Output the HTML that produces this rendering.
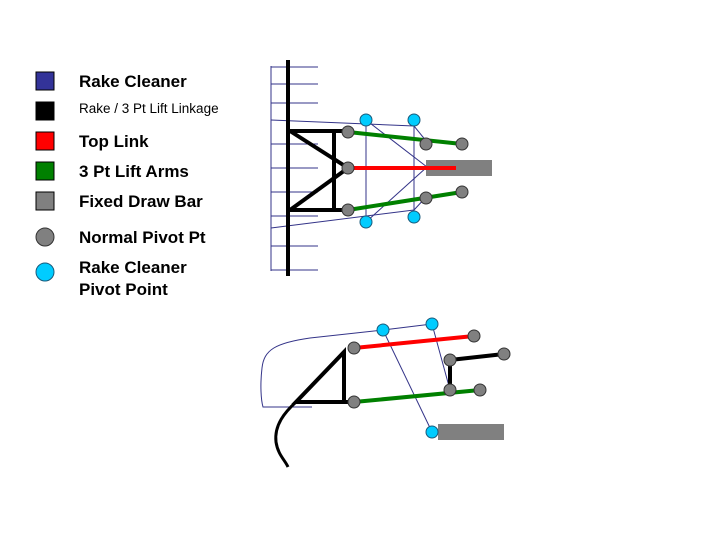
<!DOCTYPE html>
<html><head><meta charset="utf-8"><style>
html,body{margin:0;padding:0;background:#fff;}
svg{display:block}
text{font-family:"Liberation Sans",Arial,sans-serif;font-weight:bold;font-size:17px;fill:#000}
</style></head><body>
<svg width="720" height="540" viewBox="0 0 720 540" xmlns="http://www.w3.org/2000/svg">
<!-- legend -->
<rect x="36" y="72" width="18" height="18" fill="#333399" stroke="#000"/>
<rect x="36" y="102" width="18" height="18" fill="#000" stroke="#000"/>
<rect x="36" y="132" width="18" height="18" fill="#ff0000" stroke="#000"/>
<rect x="36" y="162" width="18" height="18" fill="#008000" stroke="#000"/>
<rect x="36" y="192" width="18" height="18" fill="#808080" stroke="#000"/>
<circle cx="45" cy="237" r="9" fill="#808080" stroke="#333"/>
<circle cx="45" cy="272" r="9" fill="#00ccff" stroke="#1a5a7a"/>
<text x="79" y="87">Rake Cleaner</text>
<text x="79" y="113" style="font-weight:normal;font-size:13.5px">Rake / 3 Pt Lift Linkage</text>
<text x="79" y="147">Top Link</text>
<text x="79" y="177">3 Pt Lift Arms</text>
<text x="79" y="207">Fixed Draw Bar</text>
<text x="79" y="243">Normal Pivot Pt</text>
<text x="79" y="273">Rake Cleaner</text>
<text x="79" y="295">Pivot Point</text>

<!-- top diagram -->
<g stroke="#333388" stroke-width="1" fill="none">
<line x1="271" y1="66" x2="271" y2="271"/>
<line x1="271" y1="67" x2="318" y2="67"/>
<line x1="271" y1="84" x2="318" y2="84"/>
<line x1="271" y1="103" x2="318" y2="103"/>
<line x1="271" y1="144" x2="318" y2="144"/>
<line x1="271" y1="168" x2="318" y2="168"/>
<line x1="271" y1="192" x2="318" y2="192"/>
<line x1="271" y1="216" x2="318" y2="216"/>
<line x1="271" y1="246" x2="318" y2="246"/>
<line x1="271" y1="270" x2="318" y2="270"/>
<line x1="271" y1="120" x2="414" y2="126"/>
<line x1="271" y1="228" x2="414" y2="210"/>
<line x1="366" y1="120" x2="366" y2="222"/>
<line x1="414" y1="120" x2="414" y2="217"/>
<line x1="366" y1="120" x2="427" y2="167"/>
<line x1="414" y1="126" x2="427" y2="142"/>
<line x1="366" y1="222" x2="427" y2="167"/>
<line x1="414" y1="210" x2="427" y2="196"/>
</g>
<line x1="288" y1="60" x2="288" y2="276" stroke="#000" stroke-width="4"/>
<rect x="426" y="160" width="66" height="16" fill="#808080"/>
<g stroke="#000" stroke-width="4" fill="none">
<line x1="288" y1="131" x2="348" y2="131"/>
<line x1="288" y1="210" x2="348" y2="210"/>
<line x1="334" y1="131" x2="334" y2="210"/>
<polyline points="290,131 348,168 290,210"/>
</g>
<line x1="348" y1="132" x2="462" y2="144" stroke="#008000" stroke-width="4"/>
<line x1="348" y1="210" x2="462" y2="192" stroke="#008000" stroke-width="4"/>
<line x1="348" y1="168" x2="456" y2="168" stroke="#ff0000" stroke-width="4"/>
<g fill="#808080" stroke="#333" stroke-width="1">
<circle cx="348" cy="132" r="6"/><circle cx="348" cy="168" r="6"/><circle cx="348" cy="210" r="6"/>
<circle cx="426" cy="144" r="6"/><circle cx="462" cy="144" r="6"/>
<circle cx="426" cy="198" r="6"/><circle cx="462" cy="192" r="6"/>
</g>
<g fill="#00ccff" stroke="#1a5a7a" stroke-width="1">
<circle cx="366" cy="120" r="6"/><circle cx="414" cy="120" r="6"/>
<circle cx="366" cy="222" r="6"/><circle cx="414" cy="217" r="6"/>
</g>

<!-- bottom diagram -->
<g stroke="#333388" stroke-width="1" fill="none">
<path d="M383,330 L310,338 C275,343 264,350 262,368 C260,385 261,400 263,407 L312,407"/>
<line x1="383" y1="330" x2="432" y2="324"/>
<line x1="383" y1="330" x2="432" y2="432"/>
<line x1="432" y1="324" x2="450" y2="390"/>
</g>
<path d="M296,402 C285,412 274,425 276,442 C278,455 285,460 288,467" stroke="#000" stroke-width="3" fill="none"/>
<rect x="438" y="424" width="66" height="16" fill="#808080"/>
<g stroke="#000" stroke-width="4" fill="none">
<polygon points="296,402 344,352 344,402"/>
<line x1="344" y1="402" x2="354" y2="402"/>
<line x1="450" y1="360" x2="504" y2="354"/>
<line x1="450" y1="360" x2="450" y2="390"/>
</g>
<line x1="354" y1="348" x2="474" y2="336" stroke="#ff0000" stroke-width="4"/>
<line x1="354" y1="402" x2="480" y2="390" stroke="#008000" stroke-width="4"/>
<g fill="#808080" stroke="#333" stroke-width="1">
<circle cx="354" cy="348" r="6"/><circle cx="354" cy="402" r="6"/>
<circle cx="474" cy="336" r="6"/><circle cx="450" cy="360" r="6"/>
<circle cx="504" cy="354" r="6"/><circle cx="450" cy="390" r="6"/>
<circle cx="480" cy="390" r="6"/>
</g>
<g fill="#00ccff" stroke="#1a5a7a" stroke-width="1">
<circle cx="383" cy="330" r="6"/><circle cx="432" cy="324" r="6"/><circle cx="432" cy="432" r="6"/>
</g>
</svg>
</body></html>
